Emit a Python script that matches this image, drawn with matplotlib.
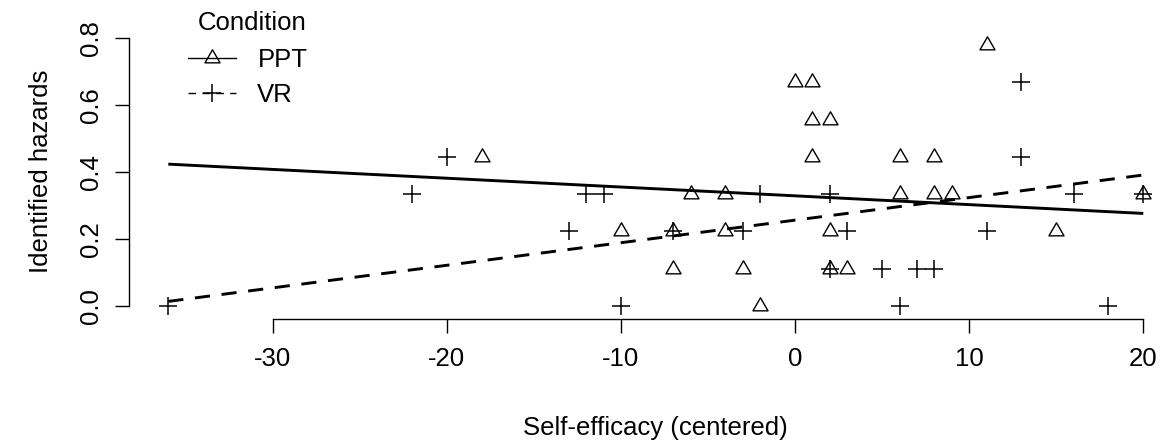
import matplotlib
matplotlib.use("Agg")
import matplotlib.pyplot as plt
import numpy as np
from matplotlib.path import Path
from matplotlib.lines import Line2D

plt.rcParams['font.family'] = ['Liberation Sans', 'DejaVu Sans']

# ---- data ----
ppt_x = [-18, -10, -7, -7, -6, -4, -4, -3, -2, 0, 1, 1, 2, 1, 2, 2, 3, 6, 6, 8, 8, 9, 11, 15, 20]
ppt_y = [4/9, 2/9, 2/9, 1/9, 3/9, 3/9, 2/9, 1/9, 0, 6/9, 6/9, 5/9, 5/9, 4/9, 2/9, 1/9, 1/9,
         4/9, 3/9, 4/9, 3/9, 3/9, 7/9, 2/9, 3/9]
vr_x = [-36, -22, -20, -13, -12, -11, -10, -7, -3, -2, 2, 2, 3, 5, 6, 7, 8, 11, 13, 13, 16, 18, 20]
vr_y = [0, 3/9, 4/9, 2/9, 3/9, 3/9, 0, 2/9, 2/9, 3/9, 3/9, 1/9, 2/9, 1/9, 0, 1/9, 1/9, 2/9,
        6/9, 4/9, 3/9, 0, 3/9]
fit_range = [-36, 20]
ppt_fit = [0.3285, -0.002625]   # intercept, slope
vr_fit = [0.256, 0.00673]       # intercept, slope
conditions = ["PPT", "VR"]
legend_title = "Condition"
xticks = [-30, -20, -10, 0, 10, 20]
yticks = [0.0, 0.2, 0.4, 0.6, 0.8]
ytick_labels = ["0.0", "0.2", "0.4", "0.6", "0.8"]

# ---- layout ----
W, H = 1160, 447
fig = plt.figure(figsize=(W / 100, H / 100), dpi=100)
xlim = (-38.24, 22.24)
ylim = (-0.0388, 0.84)
left_px, right_px = 129.3, 1182.3
bottom_px, top_px = 319.0, 24.3
ax = fig.add_axes([left_px / W, 1 - bottom_px / H, (right_px - left_px) / W, (bottom_px - top_px) / H])
ax.set_xlim(*xlim)
ax.set_ylim(*ylim)
ax.patch.set_visible(False)

FS = 18.5
tri = Path([(0, 1), (-0.866, -0.5), (0.866, -0.5), (0, 1)],
           [Path.MOVETO, Path.LINETO, Path.LINETO, Path.CLOSEPOLY])

ax.plot(ppt_x, ppt_y, linestyle='none', marker=tri, markersize=12.5, mfc='none',
        mec='black', mew=1.0, clip_on=False)
ax.plot(vr_x, vr_y, linestyle='none', marker='+', markersize=13, mec='black', mew=1.1,
        clip_on=False)

fx = np.array(fit_range, dtype=float)
ax.plot(fx, ppt_fit[0] + ppt_fit[1] * fx, color='black', lw=2.1, solid_capstyle='butt')
ax.plot(fx, vr_fit[0] + vr_fit[1] * fx, color='black', lw=2.1, linestyle=(0, (5.2, 4.0)),
        dash_capstyle='butt')

for s in ['top', 'right']:
    ax.spines[s].set_visible(False)
ax.spines['left'].set_bounds(yticks[0], yticks[-1])
ax.spines['bottom'].set_bounds(xticks[0], xticks[-1])
for s in ['left', 'bottom']:
    ax.spines[s].set_linewidth(1.0)

ax.set_xticks(xticks)
ax.set_xticklabels([str(t) for t in xticks])
ax.set_yticks(yticks)
ax.set_yticklabels(ytick_labels, rotation=90, va='center')
ax.tick_params(axis='both', direction='out', length=10.1, width=1.0, labelsize=FS, colors='black')
ax.tick_params(axis='x', pad=10)
ax.tick_params(axis='y', pad=9)

fig.text((left_px + right_px) / 2 / W, 1 - 428 / H, "Self-efficacy (centered)",
         ha='center', va='center', fontsize=FS)
fig.text(41 / W, 1 - (bottom_px + top_px) / 2 / H, "Identified hazards",
         ha='center', va='center', rotation=90, fontsize=FS)

# legend (no box), title drawn as text above the entries
fig.text(252 / W, 1 - 30 / H, legend_title, ha='center', va='baseline', fontsize=FS)
handles = [
    Line2D([], [], color='black', lw=1.0, marker=tri, markersize=12.5, mfc='none', mew=1.0),
    Line2D([], [], color='black', lw=1.0, linestyle=(0, (5.5, 4.5)), marker='+', markersize=13,
           mew=1.1),
]
leg = ax.legend(handles, conditions, loc='upper left',
                bbox_to_anchor=(188 / W, 1 - 48 / H), bbox_transform=fig.transFigure,
                frameon=False, fontsize=FS, handlelength=1.85,
                handletextpad=0.85, labelspacing=0.44, borderpad=0, borderaxespad=0)

fig.savefig("out.png", dpi=100, facecolor='white')
